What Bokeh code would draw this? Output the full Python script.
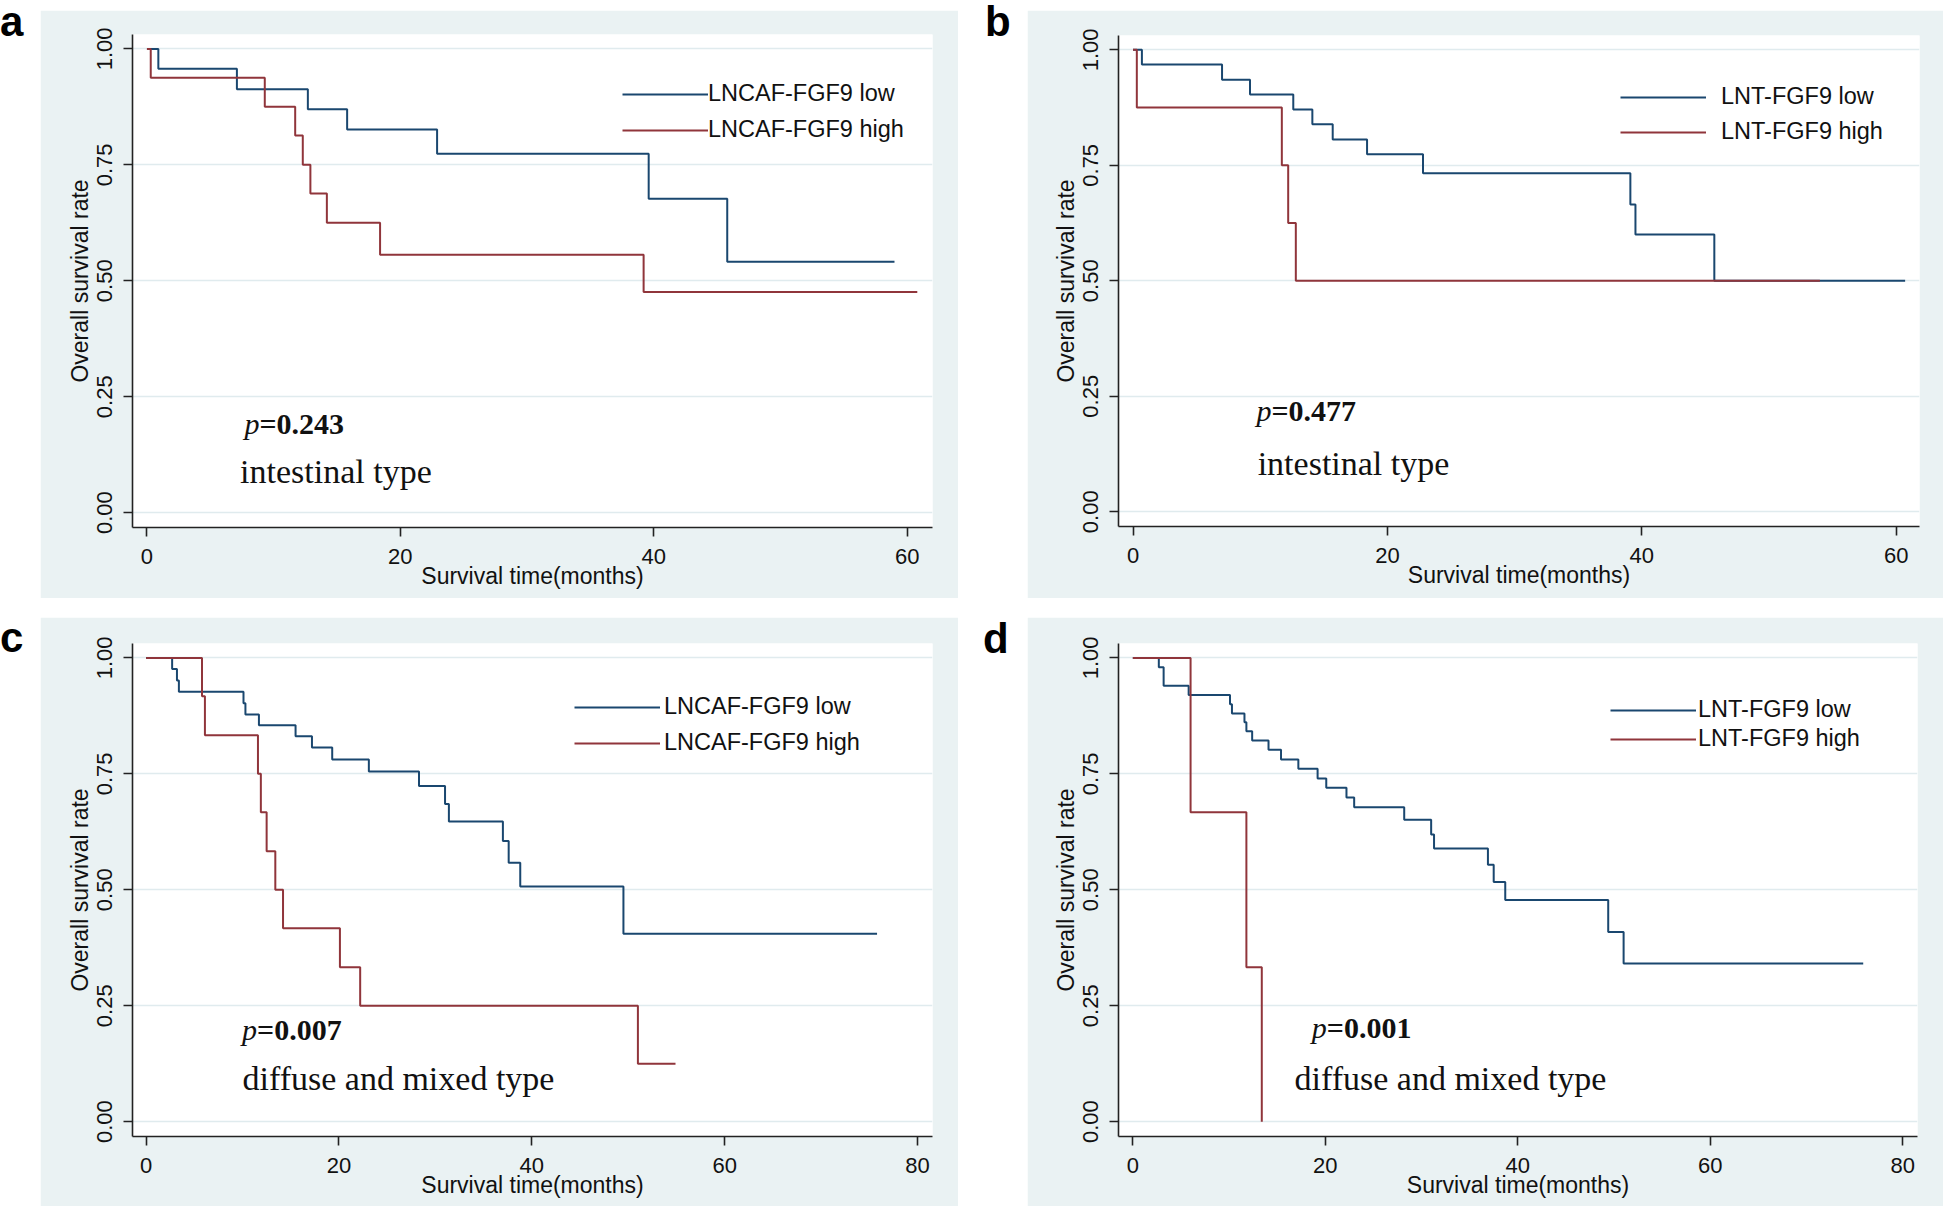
from bokeh.plotting import figure
from bokeh.layouts import row, column
from bokeh.models import (Legend, LegendItem, FixedTicker, Range1d, Spacer, Div,
                          NumeralTickFormatter)
from bokeh.embed import file_html
from bokeh.resources import INLINE
from bokeh.core.properties import value

# ---------------- data ----------------
# Panel a: LNCAF-FGF9, intestinal type
a_low_t = [0, 0.9, 7.1, 12.7, 15.8, 22.9, 39.6, 45.8, 59.0]
a_low_s = [1.0, 0.957, 0.913, 0.870, 0.826, 0.774, 0.677, 0.541, 0.541]
a_high_t = [0, 0.3, 9.3, 11.7, 12.3, 12.9, 14.2, 18.4, 39.2, 60.8]
a_high_s = [1.0, 0.938, 0.875, 0.813, 0.750, 0.688, 0.625, 0.556, 0.476, 0.476]

# Panel b: LNT-FGF9, intestinal type
b_low_t = [0, 0.7, 7.0, 9.2, 12.6, 14.1, 15.7, 18.4, 22.8, 39.1, 39.5, 45.7, 60.7]
b_low_s = [1.0, 0.968, 0.935, 0.903, 0.871, 0.839, 0.806, 0.774, 0.733, 0.665, 0.600, 0.500, 0.500]
b_high_t = [0, 0.3, 11.7, 12.2, 12.8, 54.0]
b_high_s = [1.0, 0.875, 0.750, 0.625, 0.500, 0.500]

# Panel c: LNCAF-FGF9, diffuse and mixed type
c_low_t = [0, 2.7, 3.2, 3.4, 10.1, 10.3, 11.7, 15.5, 17.2, 19.3, 23.1, 28.3, 31.0, 31.4,
           37.0, 37.6, 38.8, 49.5, 75.8]
c_low_s = [1.0, 0.976, 0.951, 0.927, 0.902, 0.878, 0.855, 0.831, 0.807, 0.781, 0.755, 0.724,
           0.685, 0.647, 0.605, 0.558, 0.507, 0.405, 0.405]
c_high_t = [0, 5.8, 6.1, 11.6, 11.9, 12.5, 13.4, 14.2, 20.1, 22.2, 51.0, 54.9]
c_high_s = [1.0, 0.917, 0.833, 0.750, 0.667, 0.583, 0.500, 0.417, 0.333, 0.250, 0.125, 0.125]

# Panel d: LNT-FGF9, diffuse and mixed type
d_low_t = [0, 2.7, 3.2, 5.8, 10.1, 10.3, 11.6, 11.8, 12.4, 14.1, 15.4, 17.2, 19.2, 20.1,
           22.2, 23.0, 28.2, 31.0, 31.3, 36.9, 37.5, 38.7, 49.4, 51.0, 75.9]
d_low_s = [1.0, 0.980, 0.940, 0.920, 0.900, 0.880, 0.861, 0.842, 0.822, 0.802, 0.781, 0.761,
           0.740, 0.720, 0.699, 0.678, 0.651, 0.619, 0.589, 0.554, 0.517, 0.478, 0.409,
           0.341, 0.341]
d_high_t = [0, 6.0, 11.8, 13.4]
d_high_s = [1.0, 0.667, 0.333, 0.0]

panel_letters = ["a", "b", "c", "d"]
legend_low = ["LNCAF-FGF9 low", "LNT-FGF9 low", "LNCAF-FGF9 low", "LNT-FGF9 low"]
legend_high = ["LNCAF-FGF9 high", "LNT-FGF9 high", "LNCAF-FGF9 high", "LNT-FGF9 high"]
p_values = ["0.243", "0.477", "0.007", "0.001"]
subtypes = ["intestinal type", "intestinal type", "diffuse and mixed type", "diffuse and mixed type"]
x_ticks_60 = [0, 20, 40, 60]
x_ticks_80 = [0, 20, 40, 60, 80]
y_ticks = [0, 0.25, 0.5, 0.75, 1.0]
x_title = "Survival time(months)"
y_title = "Overall survival rate"

# ---------------- style ----------------
BLUE = "#1A476F"
RED = "#90353B"
BG = "#EAF2F3"
GRID = "#E0EBEE"
SANS = "Liberation Sans"
SERIF = "Liberation Serif"


def make_panel(idx, low_t, low_s, high_t, high_s, xticks, x_end, w, h, borders,
               leg_loc, leg_standoff, leg_spacing, ptxt_xy, sub_xy):
    bl, br, bt, bb = borders
    p = figure(width=w, height=h, output_backend="svg", toolbar_location=None,
               x_range=Range1d(x_end[0], x_end[1]), y_range=Range1d(-0.032, 1.031),
               min_border_left=bl, min_border_right=br, min_border_top=bt,
               min_border_bottom=bb)
    p.border_fill_color = BG
    p.background_fill_color = "white"
    p.outline_line_color = None

    for ax in (p.xaxis[0], p.yaxis[0]):
        ax.axis_line_color = "#222222"
        ax.axis_line_width = 1.6
        ax.major_tick_line_color = "#222222"
        ax.major_tick_line_width = 1.6
        ax.major_tick_out = 9
        ax.major_tick_in = 0
        ax.minor_tick_line_color = None
        ax.major_label_text_font = SANS
        ax.major_label_text_font_size = "22px"
        ax.major_label_text_color = "#111111"
        ax.axis_label_text_font = SANS
        ax.axis_label_text_font_size = "23px"
        ax.axis_label_text_font_style = "normal"
        ax.axis_label_text_color = "#111111"

    p.xaxis.ticker = FixedTicker(ticks=xticks)
    p.yaxis.ticker = FixedTicker(ticks=y_ticks)
    p.yaxis.formatter = NumeralTickFormatter(format="0.00")
    p.yaxis.major_label_orientation = "vertical"
    p.xaxis.axis_label = x_title
    p.yaxis.axis_label = y_title
    p.xaxis.major_label_standoff = 12
    p.xaxis.axis_label_standoff = -4
    p.yaxis.major_label_standoff = 11
    p.yaxis.axis_label_standoff = 2

    p.xgrid.grid_line_color = None
    p.ygrid.ticker = FixedTicker(ticks=y_ticks)
    p.ygrid.grid_line_color = GRID
    p.ygrid.grid_line_width = 1.5

    r_low = p.step(low_t, low_s, mode="after", line_color=BLUE, line_width=2)
    r_high = p.step(high_t, high_s, mode="after", line_color=RED, line_width=2)

    legend = Legend(items=[LegendItem(label=legend_low[idx], renderers=[r_low]),
                           LegendItem(label=legend_high[idx], renderers=[r_high])],
                    location=leg_loc, glyph_width=86, glyph_height=24, label_height=24,
                    label_standoff=leg_standoff, spacing=leg_spacing, padding=0, margin=0,
                    border_line_color=None, background_fill_alpha=0,
                    label_text_font=SANS, label_text_font_size="23.5px",
                    label_text_color="#111111")
    p.add_layout(legend)

    px, py = ptxt_xy
    p.text(x=[px], y=[py], text=["p"], text_font=value(SERIF), text_font_style="italic",
           text_font_size="30px", text_baseline="alphabetic", text_align="left",
           text_color="#111111")
    p.text(x=[px], y=[py], text=["=" + p_values[idx]], x_offset=15, text_font=value(SERIF),
           text_font_style="bold", text_font_size="30px", text_baseline="alphabetic",
           text_align="left", text_color="#111111")
    sx, sy = sub_xy
    p.text(x=[sx], y=[sy], text=[subtypes[idx]], text_font=value(SERIF),
           text_font_size="34px", text_baseline="alphabetic", text_align="left",
           text_color="#111111")
    return p


def letter(idx, w, h, line_h):
    return Div(text=panel_letters[idx], width=w, height=h, margin=0,
               styles={"font-family": SANS, "font-weight": "bold", "font-size": "42px",
                       "line-height": line_h, "color": "#000000", "margin": "0",
                       "padding": "0", "overflow": "visible"})


H1, H2 = 588, 589
TOP = 10
pa = make_panel(0, a_low_t, a_low_s, a_high_t, a_high_s, x_ticks_60, (-1.14, 62.0),
                918, H1, (92, 26, 24, 71), (490, 384), 0, 9, (7.7, 0.192), (7.35, 0.089))
pb = make_panel(1, b_low_t, b_low_s, b_high_t, b_high_s, x_ticks_60, (-1.14, 61.83),
                916, H1, (91, 24, 25, 72), (502, 381), 15, 8, (9.7, 0.219), (9.8, 0.105))
pc = make_panel(2, c_low_t, c_low_s, c_high_t, c_high_s, x_ticks_80, (-1.41, 81.55),
                918, H2, (92, 26, 26, 70), (442, 380), 4, 9, (9.95, 0.199), (10.0, 0.094))
pd = make_panel(3, d_low_t, d_low_s, d_high_t, d_high_s, x_ticks_80, (-1.49, 81.54),
                916, H2, (91, 26, 26, 70), (492, 384), 2, 2, (18.6, 0.203), (16.8, 0.092))

row1 = row(letter(0, 40, H1 + TOP, "44px"), column(Spacer(height=TOP), pa),
           Spacer(width=27), letter(1, 42, H1 + TOP, "44px"), column(Spacer(height=TOP), pb))
row2 = row(letter(2, 40, H2, "41px"), pc, Spacer(width=25), letter(3, 44, H2, "43px"), pd)
layout = column(row1, Spacer(height=19), row2)

open("out.html", "w").write(file_html(layout, INLINE))
